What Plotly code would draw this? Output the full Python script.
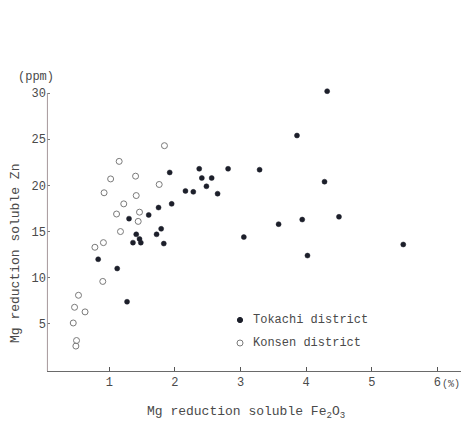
import plotly.graph_objects as go

# Tokachi district samples: Mg-reduction-soluble Fe2O3 (%) and Zn (ppm)
tokachi_fe = [0.83, 1.12, 1.27, 1.30, 1.36, 1.41, 1.46, 1.48, 1.60, 1.72, 1.79,
              1.83, 1.75, 1.95, 1.92, 2.16, 2.28, 2.37, 2.41, 2.56, 2.48, 2.65,
              2.81, 3.29, 3.05, 3.58, 3.94, 4.02, 4.28, 4.50, 3.86, 4.32, 5.48]
tokachi_zn = [12.0, 11.0, 7.4, 16.4, 13.8, 14.7, 14.2, 13.8, 16.8, 14.7, 15.3,
              13.7, 17.6, 18.0, 21.4, 19.4, 19.3, 21.8, 20.8, 20.8, 19.9, 19.1,
              21.8, 21.7, 14.4, 15.8, 16.3, 12.4, 20.4, 16.6, 25.4, 30.2, 13.6]

# Konsen district samples
konsen_fe = [0.49, 0.50, 0.45, 0.47, 0.53, 0.63, 0.90, 0.78, 0.91, 1.17, 1.44,
             1.11, 1.46, 1.22, 0.92, 1.41, 1.02, 1.40, 1.15, 1.76, 1.84]
konsen_zn = [2.6, 3.2, 5.1, 6.8, 8.1, 6.3, 9.6, 13.3, 13.8, 15.0, 16.1,
             16.9, 17.1, 18.0, 19.2, 18.9, 20.7, 21.0, 22.6, 20.1, 24.3]

series_names = ["Tokachi district", "Konsen district"]

x_ticks = [1, 2, 3, 4, 5, 6]
x_ticktext = ["1", "2", "3", "4", "5", "6"]
y_ticks = [5, 10, 15, 20, 25, 30]
y_ticktext = ["5", "10", "15", "20", "25", "30"]

FONT = "Liberation Mono, Courier New, monospace"
TXT = "#4a4a4a"
DOT = "#1c1f2a"
RING = "#7a7a7a"

W, H = 461, 425
L, R, T, B = 47, 0, 90, 54
Y_TOP = 30.33   # a little headroom above the 30 tick so the top sample shows


def px_x(px):
    return (px - L) / (W - L - R)


def px_y(py):
    return (H - B - py) / (H - T - B)


fig = go.Figure()
fig.add_trace(go.Scatter(
    x=tokachi_fe, y=tokachi_zn, mode="markers", name=series_names[0],
    marker=dict(symbol="circle", size=5, color=DOT,
                line=dict(width=0.5, color=DOT)),
    cliponaxis=False, showlegend=False,
))
fig.add_trace(go.Scatter(
    x=konsen_fe, y=konsen_zn, mode="markers", name=series_names[1],
    marker=dict(symbol="circle-open", size=6, color=RING,
                line=dict(width=1, color=RING)),
    cliponaxis=False, showlegend=False,
))

# key in the lower right of the plot area
key_rows = [(320, series_names[0], DOT, DOT, 2.6), (343, series_names[1], "white", RING, 3.0)]
shapes = []
annotations = []
for py, label, fill, edge, r in key_rows:
    shapes.append(dict(type="circle", xref="paper", yref="paper",
                       x0=px_x(240 - r), x1=px_x(240 + r),
                       y0=px_y(py + r), y1=px_y(py - r),
                       fillcolor=fill, line=dict(color=edge, width=1)))
    annotations.append(dict(text=label, xref="paper", yref="paper",
                            x=px_x(251), y=px_y(py), xanchor="left", yanchor="middle",
                            showarrow=False, font=dict(family=FONT, size=12, color=TXT)))

# y axis line stops at the 30 tick
shapes.append(dict(type="line", xref="paper", yref="y", x0=0.001, x1=0.001, y0=-0.1, y1=30,
                   line=dict(color="#a5979a", width=1)))

annotations += [
    dict(text="Mg reduction soluble Fe<sub>2</sub>O<sub>3</sub>",
         xref="paper", yref="paper", x=px_x(246), y=px_y(412),
         xanchor="center", yanchor="middle", showarrow=False,
         font=dict(family=FONT, size=13, color=TXT)),
    dict(text="Mg reduction soluble Zn",
         xref="paper", yref="paper", x=px_x(15), y=px_y(254),
         xanchor="center", yanchor="middle", showarrow=False, textangle=-90,
         font=dict(family=FONT, size=13, color=TXT)),
    dict(text="(ppm)",
         xref="paper", yref="paper", x=px_x(36), y=px_y(77),
         xanchor="center", yanchor="middle", showarrow=False,
         font=dict(family=FONT, size=12, color=TXT)),
    dict(text="(%)",
         xref="paper", yref="paper", x=px_x(440), y=px_y(384),
         xanchor="left", yanchor="middle", showarrow=False,
         font=dict(family=FONT, size=10, color=TXT)),
]

fig.update_layout(
    width=W, height=H,
    margin=dict(l=L, r=R, t=T, b=B),
    paper_bgcolor="white", plot_bgcolor="white",
    font=dict(family=FONT, size=12, color=TXT),
    showlegend=False,
    xaxis=dict(
        range=[0.05, 6.36], showgrid=False, zeroline=False,
        showline=True, linecolor="#6a6a6a", linewidth=1,
        ticks="inside", ticklen=4, tickcolor="#555555", tickwidth=1,
        tickvals=x_ticks, ticktext=x_ticktext,
        tickfont=dict(family=FONT, size=12, color=TXT),
    ),
    yaxis=dict(
        range=[-0.1, Y_TOP], showgrid=False, zeroline=False,
        showline=False,
        ticks="inside", ticklen=3, tickcolor="#777777", tickwidth=1,
        tickvals=y_ticks, ticktext=y_ticktext,
        tickfont=dict(family=FONT, size=12, color=TXT),
    ),
    shapes=shapes,
    annotations=annotations,
)

fig.write_html("out.html")
